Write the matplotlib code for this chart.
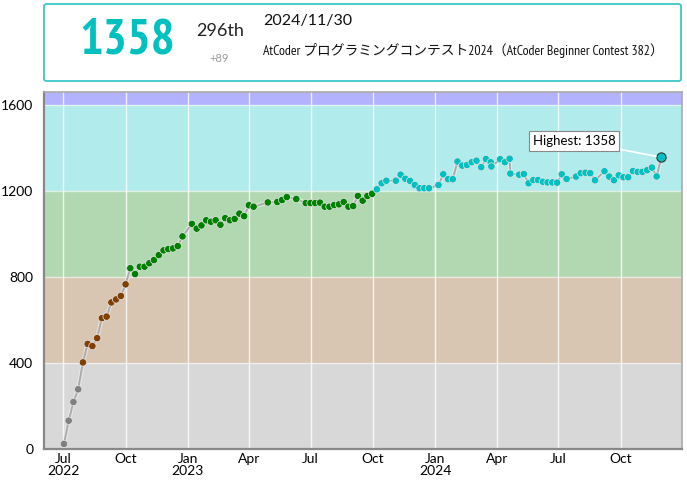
import matplotlib
matplotlib.use('Agg')
import matplotlib.pyplot as plt
import matplotlib.patheffects as pe
from matplotlib.patches import FancyBboxPatch
from matplotlib import font_manager
import pandas as pd

# contest history (date of contest, rating after it)
dates = [
    '2022-07-02', '2022-07-09', '2022-07-16', '2022-07-23', '2022-07-30', '2022-08-06',
    '2022-08-13', '2022-08-20', '2022-08-27', '2022-09-03', '2022-09-10', '2022-09-17',
    '2022-09-24', '2022-10-01', '2022-10-08', '2022-10-15', '2022-10-22', '2022-10-29',
    '2022-11-05', '2022-11-12', '2022-11-19', '2022-11-26', '2022-12-03', '2022-12-10',
    '2022-12-17', '2022-12-24', '2023-01-07', '2023-01-14', '2023-01-21', '2023-01-28',
    '2023-02-04', '2023-02-11', '2023-02-18', '2023-02-25', '2023-03-04', '2023-03-11',
    '2023-03-18', '2023-03-25', '2023-04-01', '2023-04-08', '2023-04-29', '2023-05-13',
    '2023-05-20', '2023-05-27', '2023-06-10', '2023-06-24', '2023-07-01', '2023-07-08',
    '2023-07-15', '2023-07-22', '2023-07-29', '2023-08-05', '2023-08-12', '2023-08-19',
    '2023-08-26', '2023-09-02', '2023-09-09', '2023-09-16', '2023-09-23', '2023-09-30',
    '2023-10-07', '2023-10-14', '2023-10-21', '2023-11-04', '2023-11-11', '2023-11-18',
    '2023-11-25', '2023-12-02', '2023-12-09', '2023-12-16', '2023-12-23', '2024-01-06',
    '2024-01-13', '2024-01-20', '2024-01-27', '2024-02-03', '2024-02-10', '2024-02-17',
    '2024-02-24', '2024-03-02', '2024-03-09', '2024-03-16', '2024-03-23', '2024-03-24',
    '2024-04-06', '2024-04-13', '2024-04-20', '2024-04-21', '2024-05-04', '2024-05-11',
    '2024-05-18', '2024-05-25', '2024-06-01', '2024-06-08', '2024-06-15', '2024-06-22',
    '2024-06-29', '2024-07-06', '2024-07-13', '2024-07-27', '2024-08-03', '2024-08-10',
    '2024-08-17', '2024-08-24', '2024-09-07', '2024-09-14', '2024-09-21', '2024-09-28',
    '2024-10-05', '2024-10-12', '2024-10-19', '2024-10-26', '2024-11-02', '2024-11-09',
    '2024-11-16', '2024-11-23', '2024-11-30',
]
ratings = [
    25, 133, 220, 279, 404, 490,
    480, 517, 610, 617, 683, 697,
    713, 767, 842, 815, 849, 849,
    865, 880, 903, 925, 931, 934,
    945, 990, 1048, 1026, 1041, 1065,
    1058, 1065, 1044, 1075, 1065, 1071,
    1096, 1084, 1135, 1128, 1148, 1150,
    1159, 1173, 1164, 1145, 1145, 1145,
    1147, 1128, 1128, 1136, 1139, 1150,
    1128, 1131, 1178, 1156, 1178, 1188,
    1209, 1237, 1249, 1249, 1277, 1258,
    1248, 1229, 1214, 1214, 1214, 1229,
    1279, 1256, 1256, 1338, 1319, 1322,
    1335, 1342, 1312, 1350, 1335, 1315,
    1349, 1335, 1351, 1282, 1277, 1280,
    1237, 1252, 1252, 1244, 1241, 1241,
    1240, 1279, 1257, 1268, 1284, 1286,
    1284, 1251, 1293, 1268, 1251, 1274,
    1265, 1265, 1294, 1290, 1290, 1298,
    1310, 1269, 1358,
]

band_edges = [0, 400, 800, 1200, 1600, 1660]
band_colors = ['#808080', '#804000', '#008000', '#00C0C0', '#0000FF']

tick_dates = ['2022-07-01', '2022-10-01', '2023-01-01', '2023-04-01', '2023-07-01',
              '2023-10-01', '2024-01-01', '2024-04-01', '2024-07-01', '2024-10-01']
tick_labels = ['Jul\n2022', 'Oct', 'Jan\n2023', 'Apr', 'Jul', 'Oct', 'Jan\n2024', 'Apr', 'Jul', 'Oct']
y_ticks = [0, 400, 800, 1200, 1600]

header_rating = '1358'
header_rank = '296th'
header_diff = '+89'
header_date = '2024/11/30'
header_title = 'AtCoder プログラミングコンテスト2024（AtCoder Beginner Contest 382）'

# look for a narrow bold face for the big rating number (narrow first, then condensed)
cond_files = sorted((f.fname for f in font_manager.fontManager.ttflist
                     if ('condensed' in f.fname.lower() or 'narrow' in f.fname.lower())
                     and 'bold' in f.fname.lower() and 'italic' not in f.fname.lower()
                     and 'oblique' not in f.fname.lower()),
                    key=lambda p: (0 if 'narrow' in p.lower() else 1, p))
if cond_files:
    big_font = font_manager.FontProperties(fname=cond_files[0], size=38)
    narrow_family = big_font.get_name()
else:
    big_font = font_manager.FontProperties(family='Lato', weight='bold', size=38)
    narrow_family = 'Lato'

d = pd.to_datetime(dates)


def rating_color(r):
    for lo, hi, c in zip(band_edges[:-1], band_edges[1:], band_colors):
        if lo <= r < hi:
            return c
    return band_colors[-1]


fig = plt.figure(figsize=(6.87, 4.8), dpi=100)
renderer = fig.canvas.get_renderer()

# header card
fig.patches.append(FancyBboxPatch((44 / 687, 1 - 81 / 480), 637 / 687, 77 / 480,
                                  boxstyle='round,pad=0,rounding_size=0.004',
                                  transform=fig.transFigure, fc='white', ec='#3cc6c6', lw=1.3))
big = fig.text(127 / 687, 1 - 41 / 480, header_rating, ha='center', va='center', color='#00C0C0',
               fontproperties=big_font)
# shrink the number until it is about as wide as in the card
w = big.get_window_extent(renderer).width
if w > 96:
    big.set_fontsize(38 * 96 / w)

fig.text(220 / 687, 1 - 31 / 480, header_rank, ha='center', va='center', color='#222222',
         fontsize=13, family='Lato')
fig.text(219 / 687, 1 - 59 / 480, header_diff, ha='center', va='center', color='#999999',
         fontsize=8, family='Lato')
fig.text(263 / 687, 1 - 21 / 480, header_date, ha='left', va='center', color='#111111',
         fontsize=11.5, family='Lato')
title = fig.text(263 / 687, 1 - 51 / 480, header_title, ha='left', va='center', color='#111111',
                 fontsize=11, family=[narrow_family, 'Noto Sans CJK JP'])
# keep the title inside the card (about 402 px wide in the reference)
w = title.get_window_extent(renderer).width
if w > 402:
    title.set_fontsize(11 * 402 / w)

ax = fig.add_axes([44.3 / 687, 30.7 / 480, 637.4 / 687, 357 / 480])
for lo, hi, c in zip(band_edges[:-1], band_edges[1:], band_colors):
    ax.axhspan(lo, hi, color=c, alpha=0.3, lw=0, zorder=0)
for y in y_ticks[1:]:
    ax.axhline(y, color='white', lw=1, alpha=0.6, zorder=1)

ax.set_xlim(pd.Timestamp('2022-06-03'), pd.Timestamp('2024-12-30'))
ax.set_ylim(band_edges[0], band_edges[-1])
ax.set_xticks(pd.to_datetime(tick_dates))
ax.set_xticklabels(tick_labels, fontsize=10, family='Lato', linespacing=0.95)
ax.set_yticks(y_ticks)
ax.set_yticklabels([str(v) for v in y_ticks], fontsize=10, family='Lato')
ax.tick_params(length=0, pad=3)
ax.tick_params(axis='y', pad=8)
ax.grid(axis='x', color='white', lw=1, alpha=0.8, zorder=1)
ax.set_axisbelow(True)
for s in ax.spines.values():
    s.set_color('#aaaaaa')
    s.set_linewidth(1.2)
ax.spines['left'].set_color('#888888')
ax.spines['bottom'].set_color('#888888')
ax.spines['left'].set_linewidth(1.6)
ax.spines['bottom'].set_linewidth(1.6)

ax.plot(d, ratings, color='#aaaaaa', lw=1.4, zorder=3,
        path_effects=[pe.Stroke(linewidth=3, foreground='#f4f4f4', alpha=0.6), pe.Normal()])
ax.scatter(d[:-1], ratings[:-1], s=28, c=[rating_color(r) for r in ratings[:-1]],
           edgecolors='#e6e6e6', linewidths=0.5, zorder=4)
ax.scatter(d[-1:], ratings[-1:], s=44, c=[rating_color(ratings[-1])],
           edgecolors='#333333', linewidths=0.8, zorder=5)

top = max(ratings)
ax.annotate(f'Highest: {top}', xy=(d[-1], ratings[-1]), xytext=(-63, 12),
            textcoords='offset points', ha='center', va='center', fontsize=9.5, family='Lato',
            bbox=dict(boxstyle='square,pad=0.3', fc='white', ec='#888888', lw=0.8),
            arrowprops=dict(arrowstyle='-', color='white', lw=1.2, shrinkA=0, shrinkB=4),
            zorder=6)

fig.savefig('out.png', dpi=100)
